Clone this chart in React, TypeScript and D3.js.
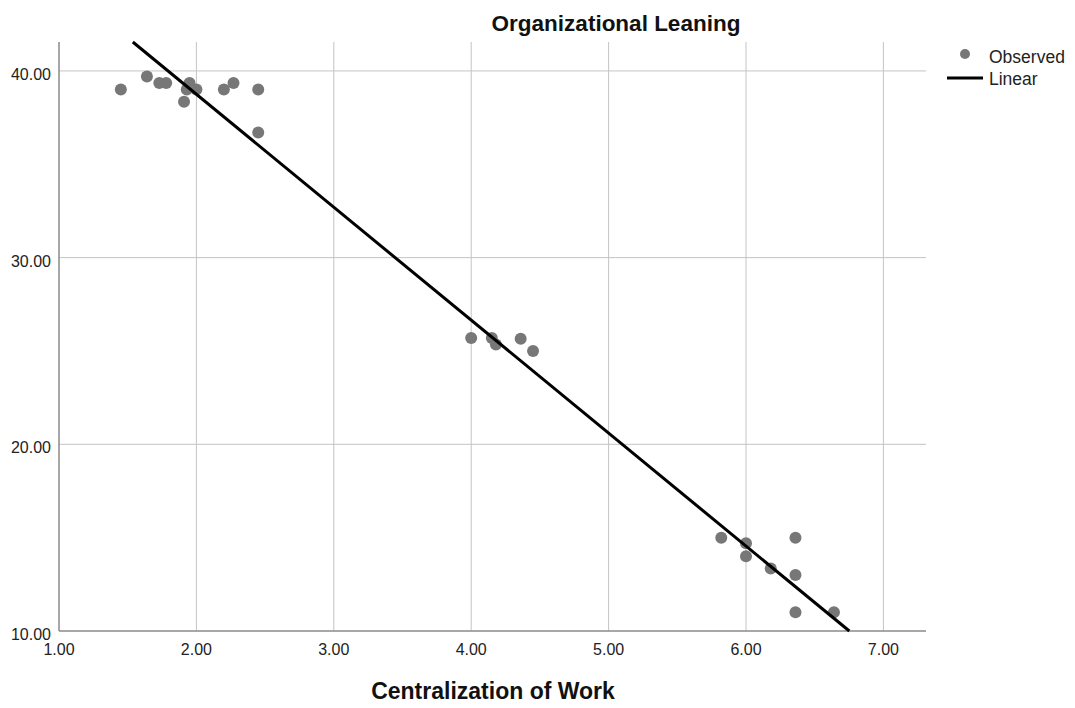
import React from "react";
import * as d3 from "d3";

// observed points
const centralization = [
  1.45, 1.64, 1.73, 1.78, 1.95, 1.93, 2.0, 1.91, 2.2, 2.27, 2.45, 2.45,
  4.0, 4.15, 4.18, 4.36, 4.45,
  5.82, 6.0, 6.0, 6.18, 6.36, 6.36, 6.36, 6.64,
];
const leaning = [
  39.0, 39.7, 39.35, 39.35, 39.35, 39.0, 39.0, 38.35, 39.0, 39.35, 39.0, 36.7,
  25.7, 25.7, 25.35, 25.65, 25.0,
  15.0, 14.7, 14.0, 13.35, 15.0, 13.0, 11.0, 11.0,
];
const xTicks = [1, 2, 3, 4, 5, 6, 7];
const yTicks = [10, 20, 30, 40];
// linear fit (as drawn)
const fitIntercept = 50.85;
const fitSlope = -6.05;

const W = 1075;
const H = 708;
const margin = { top: 42, right: 149, bottom: 77, left: 59 };

export default function App() {
  const x = d3.scaleLinear().domain([1, 7.31]).range([margin.left, W - margin.right]);
  const y = d3.scaleLinear().domain([10, 41.55]).range([H - margin.bottom, margin.top]);
  const [x0, x1] = x.domain();
  const [y0, y1] = y.domain();

  // clip the fit line to the plotting area
  const lineXStart = Math.max(x0, (y1 - fitIntercept) / fitSlope);
  const lineXEnd = Math.min(x1, (y0 - fitIntercept) / fitSlope);
  const fitPts: [number, number][] = [
    [lineXStart, fitIntercept + fitSlope * lineXStart],
    [lineXEnd, fitIntercept + fitSlope * lineXEnd],
  ];
  const line = d3.line<[number, number]>().x(d => x(d[0])).y(d => y(d[1]));

  const points = centralization.map((c, i) => ({ c, l: leaning[i] }));
  const font = "'Liberation Sans', Arial, sans-serif";

  return (
    <div style={{ position: "absolute", left: 0, top: 0 }}>
      <svg width={W} height={H} style={{ display: "block", background: "#fff" }} fontFamily={font}>
        {/* grid */}
        {xTicks.slice(1).map(t => (
          <line key={"gx" + t} x1={x(t)} x2={x(t)} y1={y(y1)} y2={y(y0)} stroke="#c4c4c4" strokeWidth={1} />
        ))}
        {yTicks.slice(1).map(t => (
          <line key={"gy" + t} x1={x(x0)} x2={x(x1)} y1={y(t)} y2={y(t)} stroke="#c4c4c4" strokeWidth={1} />
        ))}
        {/* axes */}
        <line x1={x(x0)} x2={x(x0)} y1={y(y1)} y2={y(y0)} stroke="#8a8a8a" strokeWidth={1.5} />
        <line x1={x(x0)} x2={x(x1)} y1={y(y0)} y2={y(y0)} stroke="#8a8a8a" strokeWidth={1.5} />
        {xTicks.map(t => (
          <text key={"tx" + t} x={x(t)} y={y(y0) + 24} textAnchor="middle" fontSize={16} fill="#222">
            {t.toFixed(2)}
          </text>
        ))}
        {yTicks.map(t => (
          <text key={"ty" + t} x={x(x0) - 8} y={y(t) + 9} textAnchor="end" fontSize={16} fill="#222">
            {t.toFixed(2)}
          </text>
        ))}
        {/* points */}
        {points.map((p, i) => (
          <circle key={i} cx={x(p.c)} cy={y(p.l)} r={6} fill="#777777" />
        ))}
        {/* fit */}
        <path d={line(fitPts) ?? ""} fill="none" stroke="#000" strokeWidth={3} />
        {/* titles */}
        <text x={616} y={31} textAnchor="middle" fontSize={22.5} fontWeight="bold" fill="#111">
          Organizational Leaning
        </text>
        <text x={493} y={699} textAnchor="middle" fontSize={23} fontWeight="bold" fill="#111">
          Centralization of Work
        </text>
        {/* legend */}
        <circle cx={965} cy={54} r={5} fill="#777777" />
        <text x={989} y={63} fontSize={17.5} fill="#222">Observed</text>
        <line x1={947} x2={983} y1={78} y2={78} stroke="#000" strokeWidth={3} />
        <text x={989} y={85} fontSize={17.5} fill="#222">Linear</text>
      </svg>
    </div>
  );
}
